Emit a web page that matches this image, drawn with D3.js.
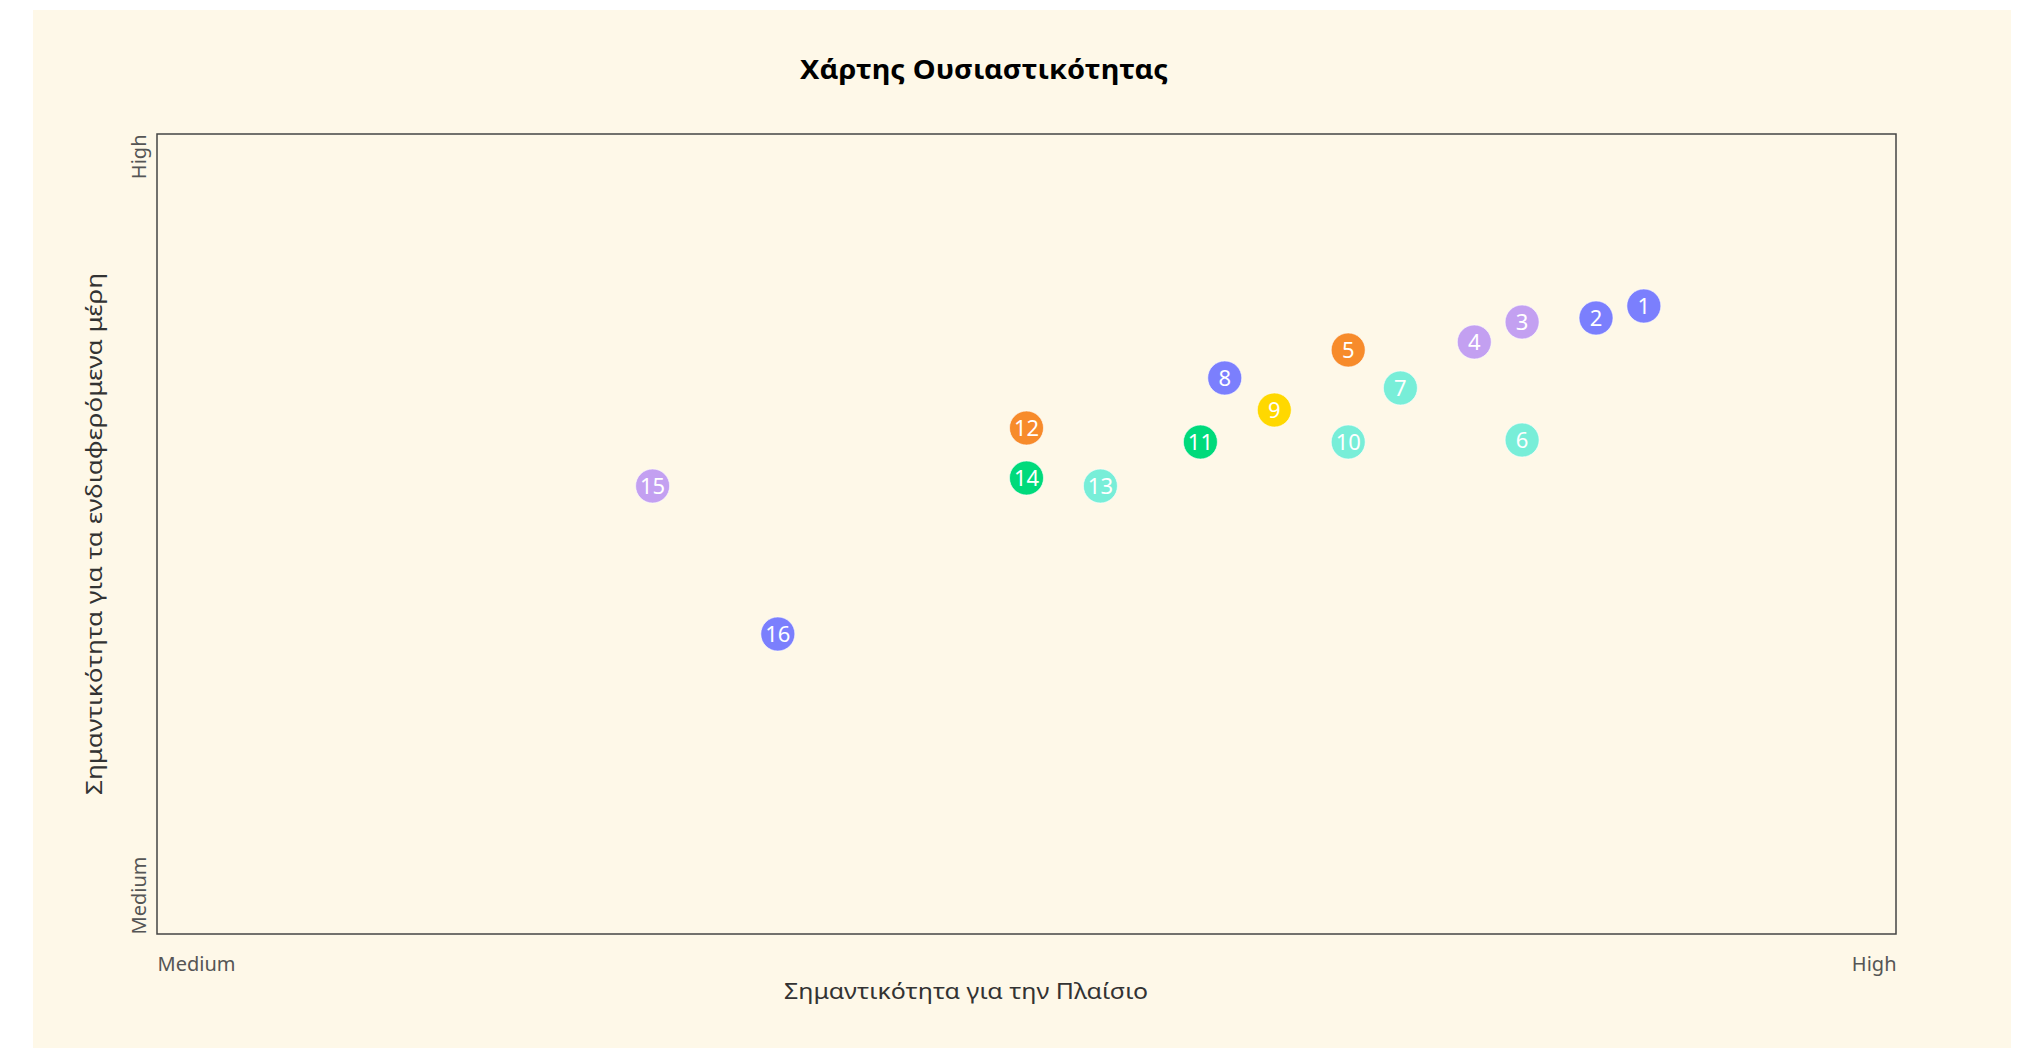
<!DOCTYPE html>
<html>
<head>
<meta charset="utf-8">
<script src="https://cdn.jsdelivr.net/npm/d3@7"></script>
<style>
  html, body { margin: 0; padding: 0; background: #ffffff; }
  svg { display: block; }
  text { font-family: "Noto Sans", "DejaVu Sans", sans-serif; }
</style>
</head>
<body>
<svg id="chart" width="2022" height="1048"></svg>
<script>
// ---- Data ----
const ids = ["1","2","3","4","5","6","7","8","9","10","11","12","13","14","15","16"];
const xValues = [4.71, 4.655, 4.57, 4.515, 4.37, 4.57, 4.43, 4.228, 4.285, 4.37, 4.20, 4.00, 4.085, 4.00, 3.57, 3.714];
const yValues = [4.57, 4.54, 4.53, 4.48, 4.46, 4.235, 4.365, 4.39, 4.31, 4.23, 4.23, 4.265, 4.12, 4.14, 4.12, 3.75];
const colorGroups = ["blue","blue","lavender","lavender","orange","aqua","aqua","blue","yellow","aqua","green","orange","aqua","green","lavender","blue"];
const tickValues = [3, 5];
const tickLabels = ["Medium", "High"];
const titleText = "Χάρτης Ουσιαστικότητας";
const xTitle = "Σημαντικότητα για την Πλαίσιο";
const yTitle = "Σημαντικότητα για τα ενδιαφερόμενα μέρη";

const palette = {
  blue: "#7B7FFD",
  lavender: "#C3A0F1",
  orange: "#F78B2B",
  aqua: "#78EED8",
  yellow: "#FFD800",
  green: "#00DA7B"
};

// ---- Layout ----
const svg = d3.select("#chart");
const plot = { left: 157, top: 134, right: 1896, bottom: 934 };

svg.append("rect")
  .attr("x", 33).attr("y", 10)
  .attr("width", 1978).attr("height", 1048)
  .attr("fill", "#FEF8E8");

const x = d3.scaleLinear().domain([3, 5]).range([plot.left, plot.right]);
const y = d3.scaleLinear().domain([3, 5]).range([plot.bottom, plot.top]);

// Title
svg.append("text")
  .attr("x", 984).attr("y", 79)
  .attr("text-anchor", "middle")
  .attr("font-size", 27)
  .attr("font-weight", "bold")
  .attr("fill", "#000")
  .attr("textLength", 368)
  .attr("lengthAdjust", "spacingAndGlyphs")
  .text(titleText);

// Plot frame
svg.append("rect")
  .attr("x", plot.left).attr("y", plot.top)
  .attr("width", plot.right - plot.left)
  .attr("height", plot.bottom - plot.top)
  .attr("fill", "none")
  .attr("stroke", "#444")
  .attr("stroke-width", 1.5);

// X axis
const fmt = v => tickLabels[tickValues.indexOf(v)];
const xAxis = svg.append("g")
  .attr("transform", `translate(0,${plot.bottom})`)
  .call(d3.axisBottom(x).tickValues(tickValues).tickFormat(fmt).tickSize(0).tickPadding(0));
xAxis.select(".domain").remove();
xAxis.selectAll("text")
  .attr("y", 37).attr("dy", 0)
  .attr("font-size", 20)
  .attr("fill", "#555")
  .attr("font-family", "Noto Sans")
  .attr("text-anchor", (d, i) => i === 0 ? "start" : "end");

// Y axis
const yAxis = svg.append("g")
  .attr("transform", `translate(${plot.left},0)`)
  .call(d3.axisLeft(y).tickValues(tickValues).tickFormat(fmt).tickSize(0).tickPadding(0));
yAxis.select(".domain").remove();
yAxis.selectAll("text")
  .attr("x", 0).attr("y", 0).attr("dy", 0)
  .attr("transform", "translate(-11,0) rotate(-90)")
  .attr("font-size", 20)
  .attr("fill", "#555")
  .attr("font-family", "Noto Sans")
  .attr("text-anchor", (d, i) => i === 0 ? "start" : "end");

// Axis titles
svg.append("text")
  .attr("x", 966).attr("y", 999)
  .attr("text-anchor", "middle")
  .attr("font-size", 22)
  .attr("fill", "#333")
  .attr("textLength", 364)
  .attr("lengthAdjust", "spacingAndGlyphs")
  .text(xTitle);

svg.append("text")
  .attr("transform", `translate(102,${(plot.top + plot.bottom) / 2}) rotate(-90)`)
  .attr("text-anchor", "middle")
  .attr("font-size", 22)
  .attr("fill", "#333")
  .attr("textLength", 522)
  .attr("lengthAdjust", "spacingAndGlyphs")
  .text(yTitle);

// Points
const data = ids.map((id, i) => ({ id, x: xValues[i], y: yValues[i], c: palette[colorGroups[i]] }));
const g = svg.append("g").selectAll("g").data(data).join("g")
  .attr("transform", d => `translate(${x(d.x)},${y(d.y)})`);
g.append("circle")
  .attr("r", 17)
  .attr("fill", d => d.c)
  .attr("stroke", "rgba(255,255,255,0.6)")
  .attr("stroke-width", 1);
g.append("text")
  .attr("text-anchor", "middle")
  .attr("dy", "0.36em")
  .attr("font-size", 22)
  .attr("fill", "#fff")
  .text(d => d.id);
</script>
</body>
</html>
